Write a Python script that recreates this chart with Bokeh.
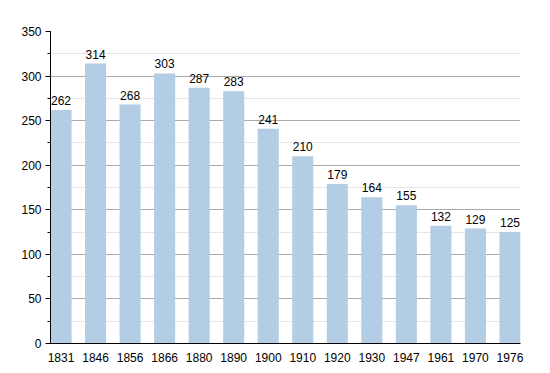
from bokeh.plotting import figure
from bokeh.models import ColumnDataSource, FixedTicker, SingleIntervalTicker, Range1d
from bokeh.core.properties import value
from bokeh.embed import file_html
from bokeh.resources import INLINE

years = ["1831", "1846", "1856", "1866", "1880", "1890", "1900",
         "1910", "1920", "1930", "1947", "1961", "1970", "1976"]
population = [262, 314, 268, 303, 287, 283, 241, 210, 179, 164, 155, 132, 129, 125]

xs = list(range(len(years)))
src = ColumnDataSource(dict(x=xs, y=population, label=[str(v) for v in population]))

bar_w = 0.61
p = figure(width=542, height=365, output_backend="svg", toolbar_location=None,
           x_range=Range1d(-bar_w / 2, len(years) - 1 + bar_w / 2),
           y_range=Range1d(0, 350),
           min_border_left=50, min_border_right=22, min_border_top=31, min_border_bottom=22)
p.outline_line_color = None
p.background_fill_color = "white"
p.border_fill_color = "white"

p.vbar(x="x", top="y", width=bar_w, source=src, fill_color="#b3cde4", line_color=None)
p.text(x="x", y="y", text="label", source=src, text_align="center", text_baseline="bottom",
       y_offset=-5, text_font=value("Liberation Sans"), text_font_size="12px", text_color="#000000")

p.xgrid.visible = False
p.yaxis.ticker = SingleIntervalTicker(interval=50, num_minor_ticks=2)
p.ygrid.ticker = SingleIntervalTicker(interval=50, num_minor_ticks=2)
p.ygrid.grid_line_color = "#aaaaaa"
p.ygrid.minor_grid_line_color = "#e6e6e6"

p.yaxis.axis_line_color = "black"
p.yaxis.major_tick_line_color = "black"
p.yaxis.minor_tick_line_color = "black"
p.yaxis.major_tick_out = 5
p.yaxis.major_tick_in = 0
p.yaxis.minor_tick_out = 3
p.yaxis.minor_tick_in = 0
p.yaxis.major_label_text_font = "Liberation Sans"
p.yaxis.major_label_text_font_size = "12px"
p.yaxis.major_label_text_color = "black"
p.yaxis.major_label_standoff = 4

p.xaxis.ticker = FixedTicker(ticks=xs)
p.xaxis.major_label_overrides = {i: y for i, y in zip(xs, years)}
p.xaxis.axis_line_color = "black"
p.xaxis.major_tick_line_color = None
p.xaxis.minor_tick_line_color = None
p.xaxis.major_label_text_font = "Liberation Sans"
p.xaxis.major_label_text_font_size = "12px"
p.xaxis.major_label_text_color = "black"
p.xaxis.major_label_standoff = 3

open("out.html", "w").write(file_html(p, INLINE))
